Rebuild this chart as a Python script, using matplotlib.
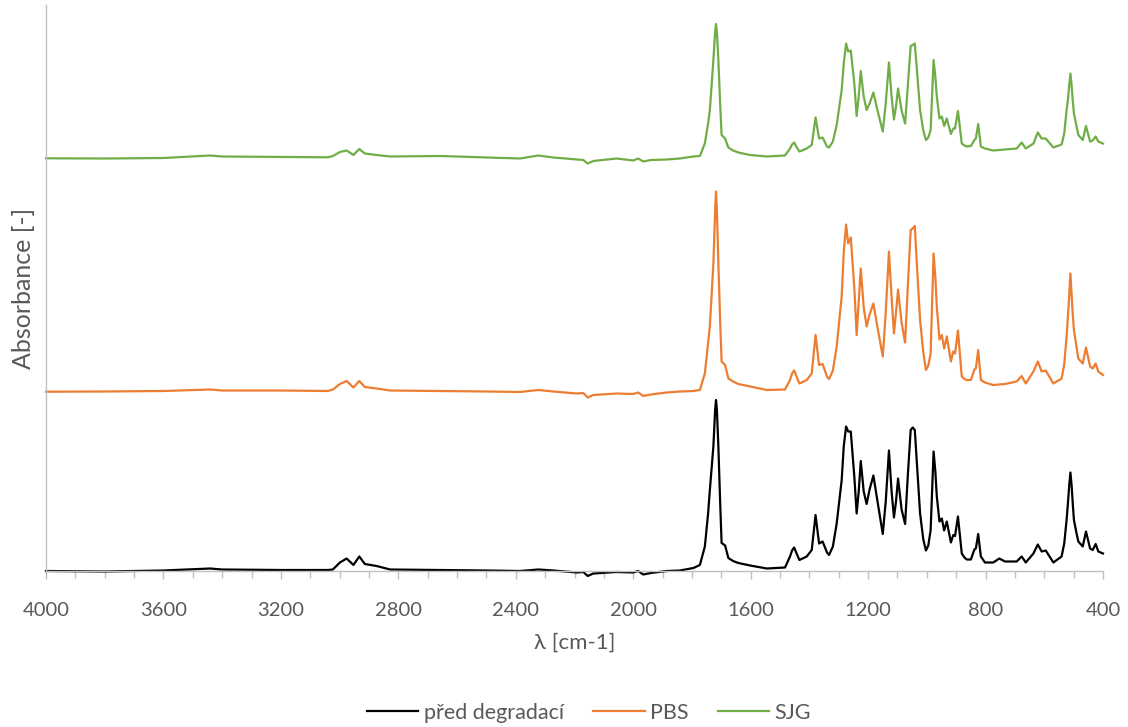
import matplotlib
matplotlib.use("Agg")
import matplotlib.pyplot as plt
from matplotlib.ticker import MultipleLocator, FixedLocator

plt.rcParams['font.family'] = ['Lato', 'DejaVu Sans']

# wavenumber [cm-1]
wavenumber = [4000, 3800, 3600, 3441, 3400, 3200, 3040, 3023, 2999, 2976, 2953, 2933, 2914,
              2874, 2828, 2658, 2500, 2386, 2323, 2272, 2192, 2170, 2155, 2136, 2057, 2000,
              1983, 1966, 1940, 1886, 1841, 1795, 1773, 1756, 1745, 1739, 1727, 1721, 1718,
              1715, 1710, 1704, 1699, 1687, 1676, 1660, 1642, 1602, 1545, 1483, 1466, 1459,
              1452, 1445, 1434, 1409, 1392, 1379, 1367, 1355, 1340, 1333, 1320, 1307, 1290,
              1283, 1275, 1268, 1259, 1247, 1239, 1232, 1225, 1215, 1205, 1195, 1182, 1168,
              1150, 1140, 1129, 1120, 1112, 1105, 1098, 1086, 1074, 1065, 1055, 1048, 1041,
              1032, 1023, 1012, 1003, 995, 987, 977, 971, 966, 957, 949, 941, 932, 918, 910,
              904, 894, 881, 872, 864, 850, 838, 833, 825, 816, 802, 774, 753, 734, 694, 677,
              663, 637, 622, 609, 595, 569, 541, 532, 524, 519, 515, 511, 507, 503, 499, 490,
              484, 469, 458, 444, 435, 425, 416, 400]

# absorbance (x1000, arbitrary units)
pred_degradaci = [0.5, 0, 1, 3, 2, 1.5, 1.5, 2, 9, 13, 6.5, 15, 7.5,
                  5.5, 2, 1.5, 1, 0.5, 2, 1, -1, -0.5, -4.5, -2, -0.5, -1,
                  0.5, -3, -1.5, 0.5, 1, 3.5, 6.5, 25, 58, 81.5, 125, 161.5, 171.5,
                  161.5, 125, 70, 28.5, 26, 13.5, 10.5, 8.5, 6, 3, 4, 15, 21,
                  24, 19, 11.5, 15, 21.5, 56.5, 28, 30, 19, 16.5, 25, 48, 91.5,
                  125, 145, 140, 140, 95, 58, 80, 110.5, 80, 67.5, 82, 96, 70,
                  37.5, 70, 121, 80, 54, 70, 93, 62, 47.5, 95, 141.5, 144, 141.5,
                  100, 58, 32, 21, 26, 41.5, 120, 100, 75, 50, 53, 41, 50, 29, 36.5,
                  35.5, 55, 18, 14, 12, 12, 22, 23, 37.5, 15, 9, 9, 13, 10, 10, 15,
                  9, 18, 27, 20, 21, 9, 15, 28, 51.5, 70, 86.5, 99, 86.5, 68, 51.5, 38,
                  30, 25, 40, 23, 21.5, 27.5, 20, 18]

pbs = [0.8, 1, 1.5, 3, 2, 2, 1.5, 3, 8.5, 11.5, 5, 11.5, 5.5,
       4, 2, 1.5, 1, 0.5, 2.5, 1, -1, -0.5, -5, -2.5, -1, -1.5,
       0, -3.5, -2, 0, 1, 1.5, 2.5, 19, 50, 66, 129, 182.5, 201,
       182.5, 129, 72, 31, 27.5, 14, 11, 8.5, 6, 2.5, 3, 12.5, 19,
       22, 17, 9, 12.5, 19, 57.5, 27.5, 28.5, 16, 13.5, 22, 46, 96,
       140, 168, 149, 155, 105, 57.5, 90, 124, 85, 66, 78, 89, 65,
       36, 80, 141, 95, 59, 80, 103, 70, 50, 105, 162.5, 164, 166.5,
       118, 72.5, 40, 22.5, 27, 39, 139, 115, 86, 53, 57.5, 44, 56, 31, 41,
       39, 62, 16, 13.5, 12.5, 12.5, 23, 24, 42.5, 12.5, 10, 7.5, 8, 8.5, 11, 16.5,
       9, 21, 31, 21, 22, 9, 14, 28, 56, 78, 97.5, 119, 97.5, 78, 62.5, 45,
       34, 29, 45, 26, 24, 29, 21, 17.5]

sjg = [0.2, 0, 0.5, 3, 2, 1.5, 1.2, 2.5, 6.5, 8, 3.5, 9.5, 5,
       3.5, 2, 2.5, 1, 0, 3, 1, -1, -1.5, -5, -2.5, 0, -2,
       0, -3, -1.5, -1, 0, 2, 2.5, 15, 35, 48.5, 98.5, 126.5, 134.5,
       126.5, 98.5, 55, 23.5, 20, 11, 8, 6, 3.5, 2, 3, 10, 14,
       16, 12, 7, 10, 13.5, 41, 20, 21, 12, 11, 17, 33.5, 68.5,
       95, 115, 107, 108, 75, 42.5, 62, 87.5, 62, 48.5, 55, 66, 48,
       27, 55, 96, 62, 39, 52, 70, 48, 35, 72, 112.5, 113.5, 115,
       82, 48.5, 28, 18.5, 21, 28.5, 98.5, 82, 62, 40, 42, 32.5, 40, 24.5, 30,
       30, 47.5, 15, 13, 12, 12.5, 18.5, 20, 34.5, 12, 10, 8, 8.5, 9, 10, 16,
       10, 15, 26, 20, 20, 11, 14, 25, 48.5, 60, 73.5, 85, 73.5, 58, 45, 32,
       23.5, 18.5, 32.5, 17, 18, 22, 17, 15]

series_names = ["před degradací", "PBS", "SJG"]
series_colors = ["#000000", "#ED7D31", "#70AD47"]
series_offsets = [0, 179, 413]
x_ticks = [4000, 3600, 3200, 2800, 2400, 2000, 1600, 1200, 800, 400]

fig = plt.figure(figsize=(11.28, 7.27), dpi=100)
ax = fig.add_axes([46 / 1128, 1 - 571 / 727, (1103 - 46) / 1128, 566 / 727])

for vals, name, col, off in zip([pred_degradaci, pbs, sjg], series_names, series_colors, series_offsets):
    ax.plot(wavenumber, [v + off for v in vals], color=col, lw=1.6, label=name,
            clip_on=False, solid_joinstyle='round')

ax.set_xlim(4000, 400)
ax.set_ylim(0.5, 566.5)
ax.xaxis.set_major_locator(FixedLocator(x_ticks))
ax.xaxis.set_minor_locator(MultipleLocator(100))
ax.set_yticks([])

for s in ['top', 'right']:
    ax.spines[s].set_visible(False)
for s in ['left', 'bottom']:
    ax.spines[s].set_color('#BFBFBF')
    ax.spines[s].set_linewidth(1.0)

ax.tick_params(axis='x', which='both', direction='out', color='#BFBFBF', width=1.0,
               labelsize=14.5, labelcolor='#595959', pad=16)
ax.tick_params(axis='x', which='major', length=6)
ax.tick_params(axis='x', which='minor', length=5)

ax.set_xlabel("λ [cm-1]", fontsize=16, color='#595959', labelpad=10)
ax.set_ylabel("Absorbance [-]", fontsize=18, color='#595959', labelpad=8)

fig.legend(loc='center', bbox_to_anchor=(589 / 1128, 1 - 713 / 727), ncol=3, frameon=False,
           fontsize=15.5, labelcolor='#595959', handlelength=2.4, handletextpad=0.25,
           columnspacing=1.35)

fig.savefig("out.png", dpi=100)
